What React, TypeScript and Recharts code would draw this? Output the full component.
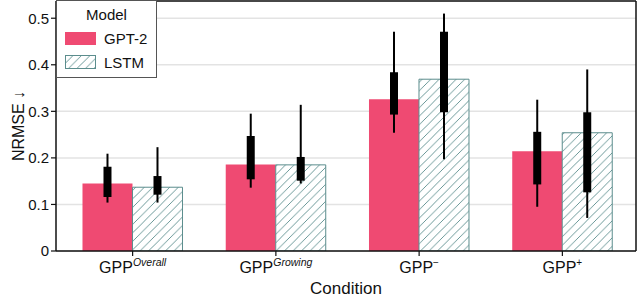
import { Bar, BarChart, CartesianGrid, ErrorBar, XAxis, YAxis } from 'recharts';

const conditions = ['Overall', 'Growing', '-', '+'];

const gpt2Mean = [0.145, 0.186, 0.326, 0.214];
const gpt2IqrLow = [0.116, 0.154, 0.293, 0.143];
const gpt2IqrHigh = [0.181, 0.247, 0.384, 0.256];
const gpt2RangeLow = [0.104, 0.136, 0.254, 0.095];
const gpt2RangeHigh = [0.209, 0.295, 0.471, 0.325];

const lstmMean = [0.137, 0.185, 0.369, 0.254];
const lstmIqrLow = [0.121, 0.151, 0.298, 0.126];
const lstmIqrHigh = [0.161, 0.202, 0.471, 0.298];
const lstmRangeLow = [0.104, 0.145, 0.197, 0.071];
const lstmRangeHigh = [0.223, 0.314, 0.51, 0.39];

const yTicks = [0, 0.1, 0.2, 0.3, 0.4, 0.5];

const PINK = '#ef4a72';
const TEAL = '#5b8d8d';
const FONT = '"Liberation Sans", Arial, Helvetica, sans-serif';

const data = conditions.map((c, i) => ({
  condition: c,
  gpt2: gpt2Mean[i],
  gpt2Iqr: [gpt2Mean[i] - gpt2IqrLow[i], gpt2IqrHigh[i] - gpt2Mean[i]],
  gpt2Range: [gpt2Mean[i] - gpt2RangeLow[i], gpt2RangeHigh[i] - gpt2Mean[i]],
  lstm: lstmMean[i],
  lstmIqr: [lstmMean[i] - lstmIqrLow[i], lstmIqrHigh[i] - lstmMean[i]],
  lstmRange: [lstmMean[i] - lstmRangeLow[i], lstmRangeHigh[i] - lstmMean[i]],
}));

function ConditionTick({ x, y, payload }: { x?: number; y?: number; payload?: { value: string } }) {
  const sup = payload?.value ?? '';
  const isWord = sup.length > 1;
  return (
    <text x={x} y={(y ?? 0) + 15} textAnchor="middle" fontFamily={FONT} fontSize={16} fill="#111">
      GPP
      <tspan dy={-7} fontSize={isWord ? 10.5 : 10} fontStyle={isWord ? 'italic' : 'normal'}>
        {sup === '-' ? '\u2212' : sup}
      </tspan>
    </text>
  );
}

function LegendBox() {
  const row = { display: 'flex', alignItems: 'center', height: 24 } as const;
  return (
    <div
      style={{
        position: 'absolute',
        left: 56,
        top: 0,
        width: 101,
        height: 78,
        background: '#fff',
        border: '1px solid #555',
        boxSizing: 'border-box',
        fontFamily: FONT,
        fontSize: 15,
        color: '#111',
      }}
    >
      <div style={{ textAlign: 'center', marginTop: 5, marginBottom: 3 }}>Model</div>
      <div style={row}>
        <div style={{ width: 31, height: 13, background: PINK, marginLeft: 8, marginRight: 8 }} />
        GPT-2
      </div>
      <div style={row}>
        <svg width={31} height={14} style={{ marginLeft: 8, marginRight: 8 }}>
          <rect x={0.5} y={0.5} width={30} height={13} fill="url(#hatch)" stroke={TEAL} />
        </svg>
        LSTM
      </div>
    </div>
  );
}

export default function App() {
  return (
    <div style={{ position: 'fixed', left: 0, top: 0, width: 640, height: 297, background: '#fff' }}>
      <BarChart
        width={640}
        height={297}
        data={data}
        margin={{ top: 0, right: 0, left: 0, bottom: 0 }}
        barCategoryGap="15%"
        barGap={0}
      >
        <defs>
          <pattern id="hatch" patternUnits="userSpaceOnUse" width={8.5} height={8.5}>
            <rect width={8.5} height={8.5} fill="#fff" />
            <path d="M-1,1 l2,-2 M0,8.5 l8.5,-8.5 M7.5,9.5 l2,-2" stroke={TEAL} strokeWidth={0.9} />
          </pattern>
        </defs>
        <CartesianGrid vertical={false} stroke="#e3e3e3" strokeWidth={1.5} />
        <XAxis
          dataKey="condition"
          height={46}
          padding={{ left: 5, right: 2 }}
          tick={<ConditionTick />}
          tickLine={{ stroke: '#111', strokeWidth: 1.2 }}
          tickSize={5}
          axisLine={{ stroke: '#111', strokeWidth: 1.5 }}
          interval={0}
          label={{
            value: 'Condition',
            position: 'insideBottom',
            offset: 3,
            style: { fontFamily: FONT, fontSize: 17, fill: '#111' },
          }}
        />
        <XAxis
          xAxisId="top"
          dataKey="condition"
          orientation="top"
          height={1}
          tick={false}
          tickLine={false}
          padding={{ left: 5, right: 2 }}
          axisLine={{ stroke: '#111', strokeWidth: 1.5 }}
        />
        <YAxis
          width={56}
          domain={[0, 0.537]}
          ticks={yTicks}
          allowDataOverflow
          tickFormatter={(v: number) => (v === 0 ? '0' : v.toFixed(1))}
          tick={{ fontFamily: FONT, fontSize: 15, fill: '#111' }}
          tickLine={{ stroke: '#111', strokeWidth: 1.2 }}
          tickSize={5}
          axisLine={{ stroke: '#111', strokeWidth: 1.5 }}
          label={{
            value: 'NRMSE \u2193',
            angle: -90,
            position: 'insideLeft',
            offset: 18,
            style: { fontFamily: FONT, fontSize: 16, fill: '#111', textAnchor: 'middle' },
          }}
        />
        <YAxis
          yAxisId="right"
          orientation="right"
          width={4}
          domain={[0, 0.537]}
          tick={false}
          tickLine={false}
          axisLine={{ stroke: '#111', strokeWidth: 1.5 }}
        />
        <Bar dataKey="gpt2" name="GPT-2" fill={PINK} isAnimationActive={false}>
          <ErrorBar dataKey="gpt2Range" width={0} stroke="#000" strokeWidth={2} isAnimationActive={false} />
          <ErrorBar dataKey="gpt2Iqr" width={0} stroke="#000" strokeWidth={8} isAnimationActive={false} />
        </Bar>
        <Bar dataKey="lstm" name="LSTM" fill="url(#hatch)" stroke={TEAL} strokeWidth={1} isAnimationActive={false}>
          <ErrorBar dataKey="lstmRange" width={0} stroke="#000" strokeWidth={2} isAnimationActive={false} />
          <ErrorBar dataKey="lstmIqr" width={0} stroke="#000" strokeWidth={8} isAnimationActive={false} />
        </Bar>
      </BarChart>
      <LegendBox />
    </div>
  );
}
